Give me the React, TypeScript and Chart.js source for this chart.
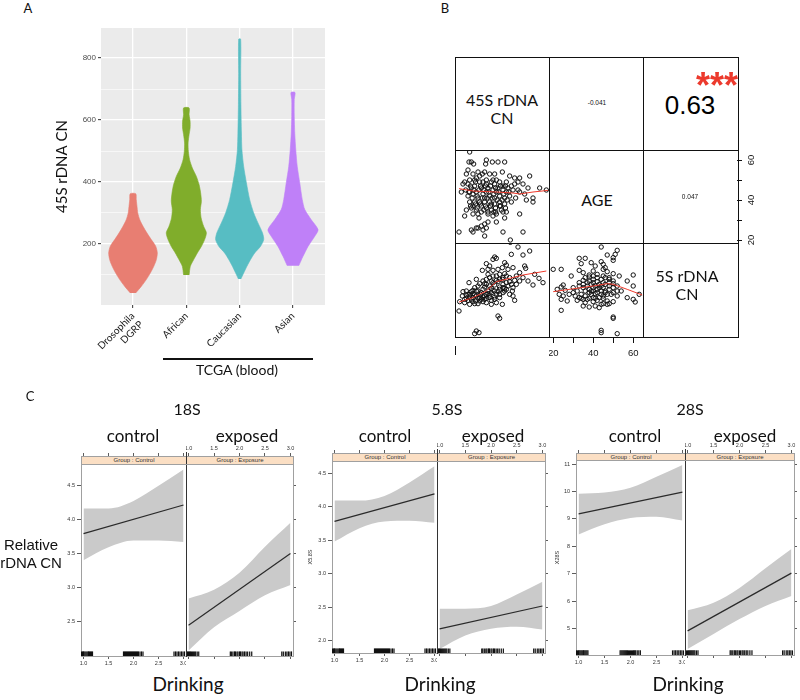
import React, { useEffect, useRef } from 'react';
import { Chart, registerables } from 'chart.js';

Chart.register(...registerables);

type XY = [number, number];

const GILL = 'Lato, "Open Sans", sans-serif';
const ARIAL = '"Liberation Sans", Arial, sans-serif';

// ================= Panel A: violin data =================
const aCategories: (string | string[])[] = [['Drosophila', 'DGRP'], 'African', 'Caucasian', 'Asian'];
const aColors = ['#E87E72', '#80AD2B', '#57BDC3', '#BF80F8'];
const aYTicks = [100, 200, 300, 400, 500, 600, 700, 800];
const aYRange: XY = [3, 897];

const drosophilaCN = [42, 63, 85, 106, 128, 149, 171, 192, 214, 235, 257, 278, 300, 321, 343, 362];
const drosophilaDensity = [0.11, 0.33, 0.53, 0.69, 0.83, 0.93, 0.97, 0.91, 0.73, 0.56, 0.4, 0.27, 0.19, 0.16, 0.13, 0.11];
const africanCN = [100, 128, 149, 171, 192, 214, 236, 257, 284, 311, 338, 365, 391, 418, 445, 472, 499, 526, 553, 574, 596, 617, 639];
const africanDensity = [0.11, 0.16, 0.29, 0.44, 0.6, 0.73, 0.8, 0.69, 0.59, 0.56, 0.6, 0.57, 0.51, 0.4, 0.24, 0.13, 0.08, 0.07, 0.11, 0.15, 0.15, 0.11, 0.11];
const caucasianCN = [87, 106, 128, 149, 171, 192, 214, 236, 268, 300, 343, 397, 450, 504, 558, 650, 750, 861];
const caucasianDensity = [0.05, 0.16, 0.29, 0.43, 0.6, 0.83, 0.96, 0.91, 0.73, 0.56, 0.4, 0.27, 0.16, 0.09, 0.07, 0.05, 0.04, 0.04];
const asianCN = [130, 160, 192, 225, 246, 278, 311, 343, 397, 450, 504, 558, 612, 666, 689];
const asianDensity = [0.23, 0.4, 0.6, 0.87, 1.0, 0.73, 0.47, 0.37, 0.27, 0.17, 0.11, 0.07, 0.05, 0.05, 0.08];
const violinMaxHalfWidth = 0.47;

// ================= Panel B: pairs data =================
// x = 45S rDNA CN, y = AGE
const ageVs45S: XY[] = [
  [200, 64], [210, 59], [196, 59], [224, 58], [300, 60], [296, 58], [336, 59], [370, 59], [410, 59], [190, 55],
  [180, 53], [220, 53], [250, 54], [276, 53], [290, 54], [320, 53], [350, 53], [396, 54], [440, 52], [470, 51],
  [500, 51], [560, 52], [490, 49], [520, 48], [550, 46], [620, 46], [660, 45], [170, 49], [160, 48], [200, 50],
  [240, 51], [260, 49], [300, 50], [330, 49], [360, 50], [380, 49], [420, 49], [450, 47], [460, 45], [490, 45],
  [530, 43], [580, 41], [540, 40], [150, 44], [176, 45], [210, 46], [230, 47], [270, 46], [310, 46], [340, 45],
  [370, 46], [400, 45], [420, 44], [190, 42], [220, 43], [250, 41], [280, 43], [320, 42], [350, 41], [380, 42],
  [410, 41], [440, 42], [476, 41], [200, 39], [230, 39], [260, 39], [290, 39], [320, 39], [350, 38], [380, 39],
  [410, 38], [450, 39], [180, 35], [210, 36], [240, 35], [270, 34], [300, 36], [330, 35], [356, 34], [390, 35],
  [420, 34], [500, 33], [580, 39], [170, 32], [220, 33], [256, 31], [310, 33], [340, 32], [410, 31], [310, 29],
  [290, 28], [270, 27], [240, 26], [220, 24], [300, 26], [280, 25], [250, 26], [136, 24], [210, 25], [290, 22],
  [400, 24], [520, 24], [444, 20], [360, 29], [190, 48], [280, 49], [350, 48], [400, 47], [240, 44], [300, 44],
  [360, 44], [330, 38], [270, 37], [380, 37], [220, 37], [290, 41], [200, 44], [430, 46], [470, 48], [500, 44],
  [310, 34], [400, 34], [360, 33], [250, 33], [205, 47], [235, 49], [265, 47], [295, 47], [325, 47], [355, 46],
  [385, 47], [415, 47], [195, 44], [225, 45], [255, 45], [285, 45], [315, 44], [345, 43], [375, 44], [405, 43],
  [435, 44], [215, 41], [245, 42], [275, 41], [305, 41], [335, 41], [365, 40], [395, 40], [425, 40], [205, 37],
  [235, 38], [265, 38], [295, 37], [325, 37], [355, 36], [385, 37], [415, 36], [245, 36], [285, 35], [345, 34],
  [300, 48], [340, 50], [260, 52], [230, 50],
];
const ageVs45SSmooth: XY[] = [[136, 45.7], [220, 44.5], [300, 44.2], [360, 44], [460, 43.5], [500, 43], [580, 44], [670, 44.8]];

// x = 45S rDNA CN, y = 5S rDNA CN
const fiveSVs45S: XY[] = [
  [444, 296], [490, 282], [560, 270], [520, 258], [350, 252], [360, 248], [340, 245], [450, 260], [410, 235], [420, 228],
  [300, 232], [320, 225], [276, 212], [310, 215], [340, 212], [370, 215], [396, 220], [430, 215], [460, 220], [530, 225],
  [536, 218], [500, 205], [480, 195], [590, 200], [616, 188], [580, 168], [640, 175], [310, 200], [340, 195], [380, 200],
  [410, 202], [440, 190], [470, 182], [300, 185], [330, 180], [360, 182], [396, 185], [420, 175], [450, 170], [500, 180],
  [196, 175], [240, 185], [260, 172], [290, 172], [320, 165], [350, 168], [380, 162], [410, 158], [230, 160], [250, 150],
  [280, 155], [310, 150], [340, 152], [370, 148], [400, 145], [440, 140], [456, 150], [160, 148], [180, 150], [200, 140],
  [220, 142], [240, 135], [264, 140], [290, 135], [320, 138], [350, 132], [380, 130], [180, 128], [156, 135], [210, 125],
  [236, 120], [270, 125], [300, 128], [330, 122], [170, 115], [200, 110], [250, 112], [280, 118], [360, 115], [396, 110],
  [460, 135], [470, 122], [140, 118], [136, 90], [370, 75], [380, 68], [240, 30], [256, 25], [230, 22], [220, 118],
  [190, 122], [310, 142], [420, 155], [480, 170], [520, 190], [550, 180], [290, 162], [360, 140], [330, 158], [400, 170],
  [220, 152], [260, 130], [200, 132], [230, 138], [250, 128], [280, 132], [300, 140], [330, 145], [350, 150], [380, 155],
  [400, 160], [270, 145], [240, 150], [210, 148], [190, 140], [260, 120], [290, 125], [320, 130], [350, 125], [380, 140],
  [410, 150], [430, 165], [300, 170], [340, 175], [370, 178], [400, 190], [420, 195], [360, 195], [320, 190], [280, 180],
  [250, 165], [220, 130], [180, 138], [170, 125], [230, 112], [300, 115], [330, 110], [380, 185], [440, 178], [460, 160],
];
const fiveSVs45SSmooth: XY[] = [[136, 117], [220, 130], [300, 150], [360, 178], [440, 188], [520, 198], [660, 210]];

// x = AGE, y = 5S rDNA CN
const fiveSVsAge: XY[] = [
  [44, 282], [52, 272], [51, 260], [50, 250], [50, 242], [47, 258], [33, 248], [36, 248], [34, 232], [39, 235],
  [41, 225], [44, 238], [45, 230], [20, 215], [24, 215], [29, 195], [33, 212], [35, 205], [38, 198], [40, 210],
  [45, 215], [46, 220], [47, 208], [50, 202], [53, 195], [60, 198], [57, 180], [60, 165], [35, 182], [37, 175],
  [40, 185], [42, 190], [45, 195], [48, 190], [50, 180], [25, 168], [24, 162], [22, 155], [26, 152], [30, 160],
  [33, 165], [35, 160], [38, 155], [40, 160], [43, 170], [45, 175], [48, 165], [50, 160], [54, 150], [23, 140],
  [25, 135], [28, 140], [24, 125], [27, 120], [32, 122], [34, 128], [36, 135], [39, 140], [41, 142], [44, 150],
  [46, 145], [49, 140], [52, 135], [57, 130], [60, 125], [63, 140], [61, 117], [36, 115], [40, 118], [42, 122],
  [45, 128], [47, 120], [50, 118], [35, 105], [38, 102], [41, 105], [44, 110], [48, 112], [24, 92], [50, 72],
  [50, 68], [44, 32], [44, 25], [52, 22], [32, 150], [37, 125], [40, 130], [45, 160], [42, 155], [39, 150],
  [34, 140], [31, 135], [30, 145], [36, 150], [38, 145], [40, 150], [42, 145], [44, 140], [46, 150], [48, 155],
  [43, 160], [41, 165], [39, 170], [37, 165], [35, 170], [33, 175], [44, 165], [46, 170], [48, 175], [42, 178],
  [40, 175], [38, 180], [36, 190], [44, 185], [46, 190], [42, 200], [40, 195], [38, 192], [48, 185], [50, 172],
  [52, 165], [52, 150], [50, 145], [47, 140], [45, 135], [43, 130], [41, 128], [38, 128], [35, 125], [33, 130],
  [47, 110], [45, 112], [43, 100],
];
const fiveSVsAgeSmooth: XY[] = [[20, 148], [27, 154], [34, 160], [40, 165], [47, 172], [50, 170], [57, 155], [64.5, 138]];

const cn45SRange: XY = [112, 676];
const cn5SRange: XY = [12, 294];
const ageRowRange: XY = [18.5, 65];
const ageColRange: XY = [17.9, 64.9];
const ageTicks = [20, 30, 40, 50, 60];
const corrAge45S = '-0.041';
const corr5S45S = '0.63';
const corr5SAge = '0.047';

// ================= Panel C: effect plots =================
const drinkingTicks = [1.0, 1.5, 2.0, 2.5, 3.0];
const bandDrinking = [1.0, 1.5, 2.0, 2.5, 3.0];
const fitDrinking = [1.0, 3.0];
const drinkingRange: XY = [0.95, 3.05];

const s18ControlLower = [3.40, 3.59, 3.69, 3.69, 3.67];
const s18ControlUpper = [4.16, 4.16, 4.27, 4.49, 4.73];
const s18ControlFit = [3.79, 4.21];
const s18ExposedLower = [2.08, 2.42, 2.66, 2.89, 3.04];
const s18ExposedUpper = [2.84, 2.97, 3.22, 3.60, 3.95];
const s18ExposedFit = [2.45, 3.50];
const s18Ticks = [2.5, 3.0, 3.5, 4.0, 4.5];
const s18Range: XY = [2.0, 4.81];

const s58ControlLower = [3.48, 3.68, 3.78, 3.79, 3.76];
const s58ControlUpper = [4.09, 4.09, 4.16, 4.36, 4.60];
const s58ControlFit = [3.78, 4.19];
const s58ExposedLower = [1.88, 2.08, 2.18, 2.21, 2.17];
const s58ExposedUpper = [2.48, 2.48, 2.52, 2.69, 2.88];
const s58ExposedFit = [2.18, 2.52];
const s58Ticks = [2.0, 2.5, 3.0, 3.5, 4.0, 4.5];
const s58Range: XY = [1.82, 4.68];

const s28ControlLower = [8.43, 8.80, 9.03, 9.08, 8.94];
const s28ControlUpper = [9.92, 9.96, 10.14, 10.54, 10.97];
const s28ControlFit = [9.18, 9.98];
const s28ExposedLower = [4.25, 4.80, 5.34, 5.82, 6.18];
const s28ExposedUpper = [5.66, 5.94, 6.48, 7.20, 7.90];
const s28ExposedFit = [4.91, 7.02];
const s28Ticks = [5, 6, 7, 8, 9, 10, 11];
const s28Range: XY = [4.03, 11.15];

const rugControl = [0.96, 0.98, 1.0, 1.01, 1.03, 1.05, 1.07, 1.09, 1.1, 1.12, 1.14, 1.16, 1.18, 1.8, 1.82, 1.84, 1.86, 1.88, 1.9, 1.92, 1.94, 1.96, 1.98, 2.0, 2.02, 2.04, 2.06, 2.08, 2.1, 2.13, 2.16, 2.19, 2.81, 2.84, 2.87, 2.9, 2.93, 2.96, 2.99, 3.02];
const rugExposed = [0.98, 1.0, 1.02, 1.04, 1.06, 1.08, 1.1, 1.12, 1.14, 1.17, 1.2, 1.82, 1.84, 1.87, 1.9, 1.92, 1.95, 1.97, 2.0, 2.02, 2.05, 2.07, 2.1, 2.13, 2.16, 2.2, 2.24, 2.83, 2.86, 2.9, 2.93, 2.96, 2.99, 3.02];

// ================= helpers =================
const baseOptions: any = {
  responsive: false,
  animation: false,
  events: [],
  plugins: { legend: { display: false }, tooltip: { enabled: false } },
};

const ZERO = { left: 0, right: 0, top: 0, bottom: 0 };
const noPad = (sc: any) => {
  sc.paddingLeft = 0; sc.paddingRight = 0; sc.paddingTop = 0; sc.paddingBottom = 0;
  sc.getPadding = () => ZERO;
};

const panelBg = {
  id: 'panelBg',
  beforeDraw(chart: any, _args: any, opts: any) {
    if (!opts || !opts.color) return;
    const { ctx, chartArea: a } = chart;
    ctx.save();
    ctx.fillStyle = opts.color;
    ctx.fillRect(a.left, a.top, a.right - a.left, a.bottom - a.top);
    ctx.restore();
  },
};

function ChartCanvas({ left, top, width, height, make }: { left: number; top: number; width: number; height: number; make: () => any }) {
  const ref = useRef<HTMLCanvasElement | null>(null);
  useEffect(() => {
    if (!ref.current) return;
    const chart = new Chart(ref.current, make());
    return () => chart.destroy();
  }, []);
  return (
    <canvas ref={ref} width={width} height={height}
      style={{ position: 'absolute', left, top, width, height, display: 'block' }} />
  );
}

function Txt({ x, y, size, family = GILL, color = '#111', weight = 400, lh = '1', children }: any) {
  return (
    <div style={{
      position: 'absolute', left: x, top: y, transform: 'translate(-50%, -50%)',
      fontSize: size, fontFamily: family, color, fontWeight: weight, lineHeight: lh,
      whiteSpace: 'pre', textAlign: 'center',
    }}>{children}</div>
  );
}

function violinOutline(values: number[], dens: number[], center: number) {
  const right = values.map((v, i) => ({ x: center + dens[i] * violinMaxHalfWidth, y: v }));
  const left = values.map((v, i) => ({ x: center - dens[i] * violinMaxHalfWidth, y: v })).reverse();
  return [...right, ...left];
}

function panelAConfig() {
  const groups = [
    { v: drosophilaCN, d: drosophilaDensity },
    { v: africanCN, d: africanDensity },
    { v: caucasianCN, d: caucasianDensity },
    { v: asianCN, d: asianDensity },
  ];
  return {
    type: 'line',
    data: {
      datasets: groups.map((g, i) => ({
        data: violinOutline(g.v, g.d, i + 1),
        fill: 'shape',
        backgroundColor: aColors[i],
        borderColor: aColors[i],
        borderWidth: 0.6,
        pointRadius: 0,
        tension: 0.25,
      })),
    },
    options: {
      ...baseOptions,
      layout: { padding: { top: 28, right: 15, left: 0, bottom: 0 }, autoPadding: false },
      plugins: { ...baseOptions.plugins, panelBg: { color: '#EBEBEB' } },
      scales: {
        x: {
          type: 'linear', min: 0.4, max: 4.6,
          afterBuildTicks: (s: any) => { s.ticks = aCategories.map((_, i) => ({ value: i + 1 })); },
          afterFit: (s: any) => { s.height = 55; noPad(s); },
          grid: { color: '#FFFFFF', lineWidth: 1.3, tickColor: '#333', tickWidth: 1, tickLength: 3 },
          border: { display: false },
          ticks: {
            callback: (v: number) => aCategories[Math.round(v) - 1] ?? '',
            minRotation: 45, maxRotation: 45, autoSkip: false, padding: 2,
            font: { family: GILL, size: 10 }, color: '#222',
          },
        },
        y: {
          type: 'linear', min: aYRange[0], max: aYRange[1],
          afterBuildTicks: (s: any) => { s.ticks = aYTicks.map((v) => ({ value: v })); },
          afterFit: (s: any) => { s.width = 61; noPad(s); },
          grid: {
            color: '#FFFFFF',
            lineWidth: (c: any) => (c.tick && c.tick.value % 200 === 0 ? 1.3 : 0.6),
            tickColor: (c: any) => (c.tick && c.tick.value % 200 === 0 ? '#333' : 'rgba(0,0,0,0)'),
            tickWidth: 1, tickLength: 3,
          },
          border: { display: false },
          ticks: {
            callback: (v: number) => (v % 200 === 0 ? String(v) : ''),
            font: { family: ARIAL, size: 8 }, color: '#4D4D4D', padding: 2,
          },
          title: {
            display: true, text: '45S rDNA CN', color: '#111',
            font: { family: GILL, size: 15 }, padding: { top: 13, bottom: 0 },
          },
        },
      },
    },
    plugins: [panelBg],
  };
}

function scatterCellConfig(points: XY[], smooth: XY[], xr: XY, yr: XY, bottomAxis: boolean) {
  return {
    type: 'scatter',
    data: {
      datasets: [
        {
          type: 'scatter', data: points.map(([x, y]) => ({ x, y })), order: 2,
          pointRadius: 2.2, pointBorderWidth: 1, pointBorderColor: '#111', pointBackgroundColor: 'rgba(0,0,0,0)',
        },
        {
          type: 'line', data: smooth.map(([x, y]) => ({ x, y })), order: 1,
          borderColor: '#EE3A2C', borderWidth: 1, pointRadius: 0, fill: false, tension: 0,
        },
      ],
    },
    options: {
      ...baseOptions,
      layout: { padding: 0, autoPadding: false },
      scales: {
        x: {
          type: 'linear', min: xr[0], max: xr[1], display: bottomAxis, position: 'bottom',
          afterBuildTicks: (s: any) => { s.ticks = ageTicks.map((v) => ({ value: v })); },
          afterFit: (s: any) => { if (bottomAxis) { s.height = 24; noPad(s); } },
          grid: { drawOnChartArea: false, tickLength: 6, tickColor: '#111', tickWidth: 1 },
          border: { display: false },
          ticks: {
            callback: (v: number) => (v % 20 === 0 ? String(v) : ''),
            font: { family: ARIAL, size: 9.5 }, color: '#111', padding: 5, maxRotation: 0, autoSkip: false,
          },
        },
        y: { type: 'linear', min: yr[0], max: yr[1], display: false },
      },
    },
  };
}

function ageRightAxisConfig() {
  return {
    type: 'scatter',
    data: { datasets: [] },
    options: {
      ...baseOptions,
      layout: { padding: { top: 0, left: 0, right: 0, bottom: 12 }, autoPadding: false },
      scales: {
        x: { type: 'linear', min: 0, max: 1, display: false },
        y: {
          type: 'linear', position: 'right', min: ageRowRange[0], max: ageRowRange[1],
          afterBuildTicks: (s: any) => { s.ticks = ageTicks.map((v) => ({ value: v })); },
          afterFit: (s: any) => { s.width = 30; noPad(s); },
          grid: { drawOnChartArea: false, tickLength: 5, tickColor: '#111', tickWidth: 1 },
          border: { display: false },
          ticks: {
            callback: (v: number) => (v % 20 === 0 ? String(v) : ''),
            font: { family: ARIAL, size: 9.5 }, color: '#111', padding: 4,
            minRotation: 90, maxRotation: 90, crossAlign: 'center', autoSkip: false,
          },
        },
      },
    },
  };
}

interface LatticeSpec {
  control: boolean;
  lower: number[]; upper: number[]; fit: number[];
  yRange: XY; yTicks: number[]; decimals: number;
  yTitle?: string; titlePad?: number;
  stripH: number; rug: number[];
}

const LEFT_M = 30, TOP_M = 14, BOT_M = 14, RIGHT_M = 10;

function latticeConfig(s: LatticeSpec) {
  const tickFont = { family: ARIAL, size: 5.5 };
  const tickColor = '#333';
  const frame = '#a0a0a0';
  const divider = '#333';
  const xCommon = {
    type: 'linear', min: drinkingRange[0], max: drinkingRange[1],
    afterBuildTicks: (sc: any) => { sc.ticks = drinkingTicks.map((v) => ({ value: v })); },
  };
  const yCommon = {
    type: 'linear', min: s.yRange[0], max: s.yRange[1],
    afterBuildTicks: (sc: any) => { sc.ticks = s.yTicks.map((v) => ({ value: v })); },
  };
  return {
    type: 'line',
    data: {
      datasets: [
        {
          data: bandDrinking.map((x, i) => ({ x, y: s.lower[i] })), xAxisID: 'x', yAxisID: 'y', order: 3,
          borderColor: 'rgba(0,0,0,0)', borderWidth: 0.1, pointRadius: 0, fill: false, cubicInterpolationMode: 'monotone',
        },
        {
          data: bandDrinking.map((x, i) => ({ x, y: s.upper[i] })), xAxisID: 'x', yAxisID: 'y', order: 3,
          borderColor: 'rgba(0,0,0,0)', borderWidth: 0.1, backgroundColor: '#CACACA', pointRadius: 0, fill: '-1',
          cubicInterpolationMode: 'monotone',
        },
        {
          data: fitDrinking.map((x, i) => ({ x, y: s.fit[i] })), xAxisID: 'x', yAxisID: 'y', order: 1,
          borderColor: '#2a2a2a', borderWidth: 1.2, pointRadius: 0, fill: false,
        },
        {
          type: 'scatter', data: s.rug.map((x) => ({ x, y: 0.012 })), xAxisID: 'x', yAxisID: 'yr', order: 1,
          pointStyle: 'line', rotation: 90, pointRadius: 2.3, borderColor: '#111', borderWidth: 1.2,
        },
      ],
    },
    options: {
      ...baseOptions,
      layout: { padding: 0, autoPadding: false },
      scales: {
        x: {
          ...xCommon, position: 'bottom',
          afterFit: (sc: any) => { sc.height = BOT_M; noPad(sc); },
          grid: { drawOnChartArea: false, tickLength: 3, tickColor, tickWidth: 0.8 },
          border: { display: true, color: frame, width: 1 },
          ticks: {
            display: s.control, callback: (v: number) => v.toFixed(1), font: tickFont, color: tickColor,
            padding: 1, maxRotation: 0, autoSkip: false,
          },
        },
        x2: {
          ...xCommon, position: 'top',
          afterFit: (sc: any) => { sc.height = TOP_M + s.stripH; noPad(sc); },
          grid: { drawOnChartArea: false, tickLength: s.stripH + 3, tickColor, tickWidth: 0.8 },
          border: { display: false },
          ticks: {
            display: !s.control, callback: (v: number) => v.toFixed(1), font: tickFont, color: tickColor,
            padding: 1, maxRotation: 0, autoSkip: false,
          },
        },
        y: {
          ...yCommon, position: 'left',
          afterFit: (sc: any) => { sc.width = s.control ? LEFT_M : 0; noPad(sc); },
          grid: { drawOnChartArea: false, drawTicks: s.control, tickLength: 4, tickColor, tickWidth: 0.8 },
          border: { display: true, color: s.control ? frame : divider, width: 1 },
          ticks: {
            display: s.control, callback: (v: number) => v.toFixed(s.decimals), font: tickFont, color: tickColor,
            padding: 2, autoSkip: false,
          },
          title: {
            display: s.control && !!s.yTitle, text: s.yTitle || '', color: tickColor,
            font: tickFont, padding: { top: s.titlePad || 0, bottom: 0 },
          },
        },
        y2: {
          ...yCommon, position: 'right',
          afterFit: (sc: any) => { sc.width = s.control ? 0 : RIGHT_M; noPad(sc); },
          grid: { drawOnChartArea: false, drawTicks: !s.control, tickLength: 3, tickColor, tickWidth: 0.8 },
          border: { display: true, color: s.control ? divider : frame, width: 1 },
          ticks: { display: false },
        },
        yr: { type: 'linear', min: 0, max: 1, display: false },
      },
    },
  };
}

interface GeneGeom {
  name: string; cL: number; dv: number; eR: number; stripTop: number; panelTop: number; panelBottom: number;
}

function Strip({ left, top, width, height, label }: any) {
  return (
    <div style={{
      position: 'absolute', left, top, width: width + 1, height: height + 1, boxSizing: 'border-box',
      background: '#FBDFC4', border: '1px solid #a0a0a0', fontFamily: ARIAL, fontSize: 6, color: '#333',
      lineHeight: `${height - 1}px`, textAlign: 'center', whiteSpace: 'nowrap',
    }}>{label}</div>
  );
}

function Gene({ g, control, exposed, yRange, yTicks, decimals, yTitle, titlePad }: any) {
  const stripH = g.panelTop - g.stripTop;
  const top = g.stripTop - TOP_M;
  const height = (g.panelBottom - top) + BOT_M;
  const cWidth = LEFT_M + (g.dv - g.cL);
  const eWidth = (g.eR - g.dv) + RIGHT_M;
  return (
    <>
      <ChartCanvas left={g.cL - LEFT_M} top={top} width={cWidth} height={height}
        make={() => latticeConfig({ control: true, lower: control[0], upper: control[1], fit: control[2], yRange, yTicks, decimals, yTitle, titlePad, stripH, rug: rugControl })} />
      <ChartCanvas left={g.dv} top={top} width={eWidth} height={height}
        make={() => latticeConfig({ control: false, lower: exposed[0], upper: exposed[1], fit: exposed[2], yRange, yTicks, decimals, stripH, rug: rugExposed })} />
      <Strip left={g.cL} top={g.stripTop} width={g.dv - g.cL} height={stripH} label="Group : Control" />
      <Strip left={g.dv} top={g.stripTop} width={g.eR - g.dv} height={stripH} label="Group : Exposure" />
      <div style={{ position: 'absolute', left: g.dv, top: g.stripTop - 4, width: 1, height: stripH + 4, background: '#333' }} />
    </>
  );
}

const gene18: GeneGeom = { name: '18S', cL: 81, dv: 186, eR: 293, stripTop: 456, panelTop: 464, panelBottom: 656 };
const gene58: GeneGeom = { name: '5.8S', cL: 332, dv: 437, eR: 545, stripTop: 453, panelTop: 461, panelBottom: 653 };
const gene28: GeneGeom = { name: '28S', cL: 576, dv: 685, eR: 794, stripTop: 453, panelTop: 460, panelBottom: 655 };

function Line({ x, y, w, h, color = '#111' }: any) {
  return <div style={{ position: 'absolute', left: x, top: y, width: w, height: h, background: color }} />;
}

export default function App() {
  const bX = [455, 549, 643, 738];
  const bY = [57, 150, 243, 337];
  return (
    <div style={{ position: 'absolute', left: 0, top: 0, width: 800, height: 700, overflow: 'hidden', background: '#fff' }}>
      {/* ---------- Panel A ---------- */}
      <Txt x={28} y={8} size={13}>A</Txt>
      <ChartCanvas left={40} top={0} width={300} height={360} make={panelAConfig} />
      <Line x={163} y={358} w={150} h={2} color="#111" />
      <Txt x={237} y={370} size={14}>TCGA (blood)</Txt>

      {/* ---------- Panel B ---------- */}
      <Txt x={445} y={8} size={13}>B</Txt>
      <ChartCanvas left={455} top={150} width={94} height={93}
        make={() => scatterCellConfig(ageVs45S, ageVs45SSmooth, cn45SRange, ageRowRange, false)} />
      <ChartCanvas left={455} top={243} width={94} height={94}
        make={() => scatterCellConfig(fiveSVs45S, fiveSVs45SSmooth, cn45SRange, cn5SRange, false)} />
      <ChartCanvas left={549} top={243} width={94} height={118}
        make={() => scatterCellConfig(fiveSVsAge, fiveSVsAgeSmooth, ageColRange, cn5SRange, true)} />
      <ChartCanvas left={643} top={150} width={124} height={105} make={ageRightAxisConfig} />
      {bY.map((y) => <Line key={'h' + y} x={bX[0]} y={y} w={bX[3] - bX[0] + 1} h={1} />)}
      {bX.map((x) => <Line key={'v' + x} x={x} y={bY[0]} w={1} h={bY[3] - bY[0] + 1} />)}
      <Line x={455} y={346} w={1} h={9} />
      <Txt x={502} y={109} size={16} lh="18px">{'45S rDNA\nCN'}</Txt>
      <Txt x={597} y={103} size={6.5} family={ARIAL}>{corrAge45S}</Txt>
      <Txt x={690} y={105} size={26} family={ARIAL} color="#000">{corr5S45S}</Txt>
      <Txt x={717} y={86} size={36} family={ARIAL} weight={700} color="#EC3A2D">***</Txt>
      <Txt x={597} y={200} size={16}>AGE</Txt>
      <Txt x={690} y={197} size={6.5} family={ARIAL}>{corr5SAge}</Txt>
      <Txt x={687} y={285} size={16} lh="18px">{'5S rDNA\nCN'}</Txt>

      {/* ---------- Panel C ---------- */}
      <Txt x={30} y={396} size={13}>C</Txt>
      <Gene g={gene18} control={[s18ControlLower, s18ControlUpper, s18ControlFit]}
        exposed={[s18ExposedLower, s18ExposedUpper, s18ExposedFit]} yRange={s18Range} yTicks={s18Ticks} decimals={1} />
      <Gene g={gene58} control={[s58ControlLower, s58ControlUpper, s58ControlFit]}
        exposed={[s58ExposedLower, s58ExposedUpper, s58ExposedFit]} yRange={s58Range} yTicks={s58Ticks} decimals={1}
        yTitle="X5.8S" titlePad={4.7} />
      <Gene g={gene28} control={[s28ControlLower, s28ControlUpper, s28ControlFit]}
        exposed={[s28ExposedLower, s28ExposedUpper, s28ExposedFit]} yRange={s28Range} yTicks={s28Ticks} decimals={0}
        yTitle="X28S" titlePad={7.7} />

      <Txt x={187} y={409} size={16}>18S</Txt>
      <Txt x={447} y={409} size={16}>5.8S</Txt>
      <Txt x={690} y={409} size={16}>28S</Txt>
      {[[133, 247], [385, 493], [635, 745]].map(([c, e]) => (
        <React.Fragment key={c}>
          <Txt x={c} y={435} size={17}>control</Txt>
          <Txt x={e} y={435} size={17}>exposed</Txt>
        </React.Fragment>
      ))}
      {[188, 440, 688].map((x) => <Txt key={x} x={x} y={683} size={19}>Drinking</Txt>)}
      <Txt x={31} y={554} size={15} family={ARIAL} lh="18px">{'Relative\nrDNA CN'}</Txt>
    </div>
  );
}
